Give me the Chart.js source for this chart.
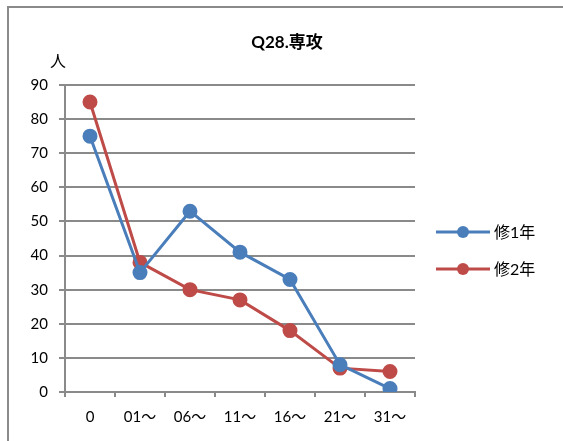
<!DOCTYPE html>
<html lang="ja">
<head>
  <meta charset="UTF-8" />
  <title>Q28.専攻</title>
  <script src="https://cdn.jsdelivr.net/npm/chart.js"></script>
  <style>
    html, body { margin: 0; padding: 0; background: #fff; }
    #wrap { position: relative; width: 563px; height: 441px; }
  </style>
</head>
<body>
  <div id="wrap"><canvas id="q28Chart" width="563" height="441"></canvas></div>

  <script>
    const categories = ['0', '01〜', '06〜', '11〜', '16〜', '21〜', '31〜'];
    const year1 = [75, 35, 53, 41, 33, 8, 1];
    const year2 = [85, 38, 30, 27, 18, 7, 6];
    const seriesNames = ['修1年', '修2年'];
    const yTicks = [0, 10, 20, 30, 40, 50, 60, 70, 80, 90];

    const FONT = "Lato, 'Noto Sans CJK JP', sans-serif";
    const BLUE = '#4a7ebb';
    const RED = '#be4b48';

    // frame, title, unit label and the legend, Excel style
    const decor = {
      id: 'decor',
      beforeDraw(chart) {
        const ctx = chart.ctx;
        ctx.save();
        ctx.strokeStyle = '#8a8a8a';
        ctx.lineWidth = 2;
        ctx.strokeRect(8, 7, 600, 500);
        ctx.restore();
      },
      afterDraw(chart) {
        const ctx = chart.ctx;
        ctx.save();
        ctx.fillStyle = '#000';
        ctx.textAlign = 'center';
        ctx.textBaseline = 'middle';
        ctx.font = "bold 17px " + FONT;
        ctx.fillText('Q28.専攻', 287, 43);
        ctx.font = "16px " + FONT;
        ctx.fillText('人', 58, 62);

        chart.data.datasets.forEach((ds, i) => {
          const y = 232 + i * 37;
          ctx.strokeStyle = ds.borderColor;
          ctx.lineWidth = 3;
          ctx.beginPath();
          ctx.moveTo(436, y);
          ctx.lineTo(490, y);
          ctx.stroke();
          ctx.fillStyle = ds.borderColor;
          ctx.beginPath();
          ctx.arc(463, y, 6, 0, Math.PI * 2);
          ctx.fill();
          ctx.fillStyle = '#000';
          ctx.textAlign = 'left';
          ctx.font = "16px " + FONT;
          ctx.fillText(ds.label, 494, y + 1);
        });
        ctx.restore();
      }
    };

    new Chart(document.getElementById('q28Chart'), {
      type: 'line',
      data: {
        labels: categories,
        datasets: [
          {
            label: seriesNames[0],
            data: year1,
            borderColor: BLUE,
            backgroundColor: BLUE,
            borderWidth: 3,
            pointRadius: 6,
            pointHoverRadius: 6,
            tension: 0
          },
          {
            label: seriesNames[1],
            data: year2,
            borderColor: RED,
            backgroundColor: RED,
            borderWidth: 3,
            pointRadius: 6,
            pointHoverRadius: 6,
            tension: 0
          }
        ]
      },
      options: {
        responsive: false,
        animation: false,
        layout: { padding: { left: 0, right: 148, top: 85, bottom: 0 } },
        plugins: {
          legend: { display: false },
          title: { display: false },
          tooltip: { enabled: false }
        },
        scales: {
          x: {
            offset: true,
            grid: {
              offset: true,
              drawOnChartArea: false,
              drawTicks: true,
              tickLength: 5,
              color: '#8a8a8a',
              lineWidth: 2
            },
            border: { color: '#8a8a8a', width: 2 },
            ticks: {
              color: '#000',
              padding: 11,
              maxRotation: 0,
              autoSkip: false,
              font: { family: FONT, size: 15 }
            },
            afterFit(scale) { scale.height = 441 - 392; }
          },
          y: {
            min: 0,
            max: 90,
            afterBuildTicks(scale) { scale.ticks = yTicks.map(v => ({ value: v })); },
            grid: {
              color: '#8a8a8a',
              lineWidth: 2,
              drawTicks: true,
              tickLength: 6
            },
            border: { color: '#8a8a8a', width: 2 },
            ticks: {
              color: '#000',
              padding: 11,
              font: { family: FONT, size: 15 }
            },
            afterFit(scale) { scale.width = 65; }
          }
        }
      },
      plugins: [decor]
    });
  </script>
</body>
</html>
